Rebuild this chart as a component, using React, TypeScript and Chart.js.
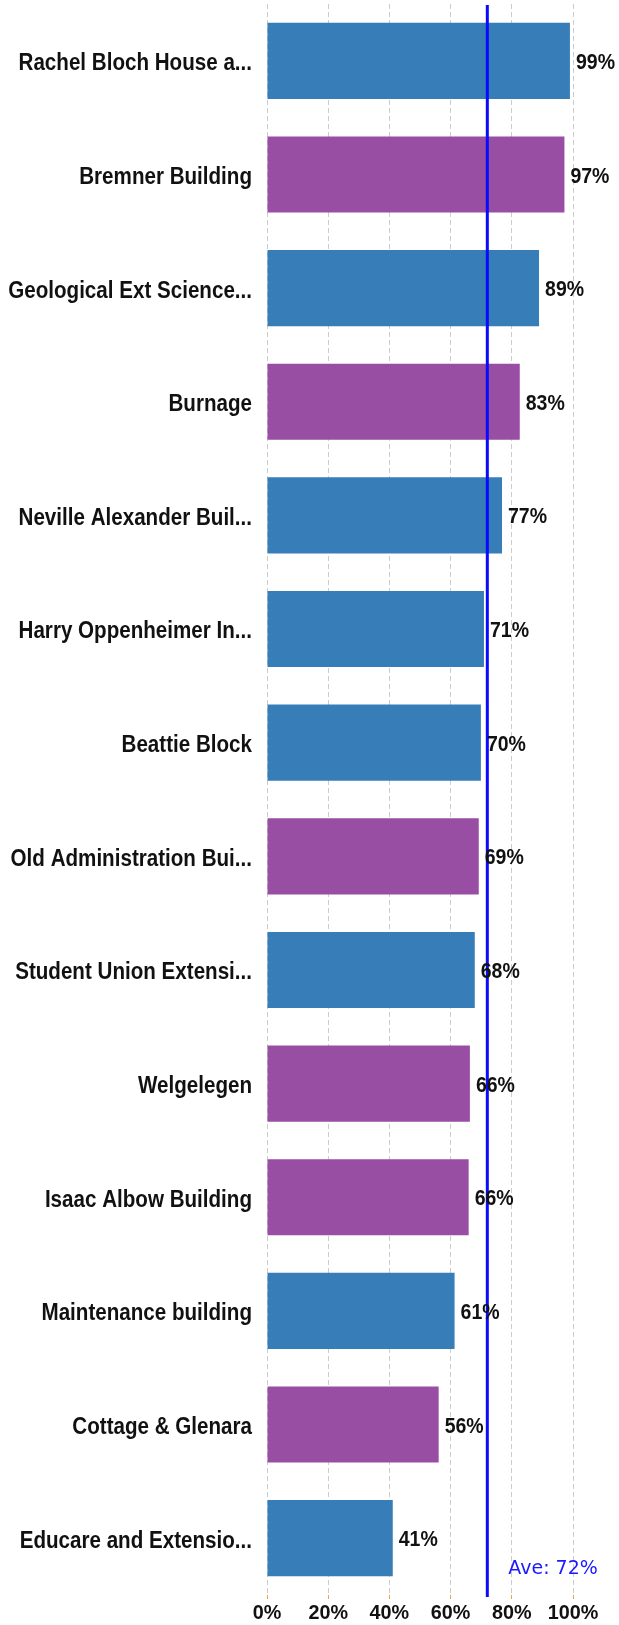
import React, { useEffect, useRef } from "react";
import { Chart, registerables } from "chart.js";

Chart.register(...registerables);

const categories = [
  "Rachel Bloch House a...",
  "Bremner Building",
  "Geological Ext Science...",
  "Burnage",
  "Neville Alexander Buil...",
  "Harry Oppenheimer In...",
  "Beattie Block",
  "Old Administration Bui...",
  "Student Union Extensi...",
  "Welgelegen",
  "Isaac Albow Building",
  "Maintenance building",
  "Cottage & Glenara",
  "Educare and Extensio...",
];

const values = [99.0, 97.2, 88.9, 82.6, 76.8, 70.9, 69.9, 69.2, 67.9, 66.3, 65.9, 61.3, 56.1, 41.1];

const groups = ["A", "B", "A", "B", "A", "A", "A", "B", "A", "B", "B", "A", "B", "A"];

const xTickValues = [0, 20, 40, 60, 80, 100];

const averageValue = 72;
const averageLabel = "Ave: 72%";

const groupColors: Record<string, string> = { A: "#377eb8", B: "#984ea3" };

function drawText(
  ctx: CanvasRenderingContext2D,
  text: string,
  x: number,
  y: number,
  font: string,
  align: CanvasTextAlign,
  sy: number,
  color: string
) {
  ctx.save();
  ctx.font = font;
  ctx.fillStyle = color;
  ctx.textAlign = align;
  ctx.textBaseline = "middle";
  ctx.translate(x, y);
  ctx.scale(1, sy);
  ctx.fillText(text, 0, 0);
  ctx.restore();
}

export default function App() {
  const ref = useRef<HTMLCanvasElement | null>(null);

  useEffect(() => {
    if (!ref.current) return;

    const overlay = {
      id: "overlay",
      afterDatasetsDraw(chart: any) {
        const { ctx, chartArea, scales } = chart;
        const x = scales.x.getPixelForValue(averageValue);
        ctx.save();
        ctx.strokeStyle = "#0a0aff";
        ctx.lineWidth = 3;
        ctx.beginPath();
        ctx.moveTo(x, chartArea.top + 1);
        ctx.lineTo(x, chartArea.bottom + 2);
        ctx.stroke();
        ctx.restore();

        drawText(ctx, averageLabel, x + 21, chartArea.bottom - 26, "19px 'DejaVu Sans'", "left", 1, "#1a1aff");

        const meta = chart.getDatasetMeta(0);
        meta.data.forEach((bar: any, i: number) => {
          drawText(ctx, Math.round(values[i]) + "%", bar.x + 6, bar.y + 2, "bold 19.5px 'Liberation Sans'", "left", 1.13, "#111111");
        });

        categories.forEach((c, i) => {
          const y = scales.y.getPixelForValue(i);
          drawText(ctx, c, chartArea.left - 15, y + 3, "bold 20.6px 'Liberation Sans'", "right", 1.13, "#111111");
        });

        xTickValues.forEach((v) => {
          const tx = scales.x.getPixelForValue(v);
          drawText(ctx, v + "%", tx, 1613, "bold 19.8px 'Liberation Sans'", "center", 1.05, "#111111");
        });
      },
    };

    const chart = new Chart(ref.current, {
      type: "bar",
      data: {
        labels: categories,
        datasets: [
          {
            data: values,
            backgroundColor: groups.map((g) => groupColors[g]),
            borderWidth: 0,
            categoryPercentage: 1,
            barPercentage: 0.67,
          },
        ],
      },
      options: {
        indexAxis: "y",
        responsive: false,
        animation: false,
        devicePixelRatio: 1,
        layout: { padding: { top: 4, right: 46, left: 0, bottom: 0 } },
        plugins: {
          legend: { display: false },
          tooltip: { enabled: false },
        },
        scales: {
          x: {
            min: 0,
            max: 100,
            afterBuildTicks: (scale: any) => {
              scale.ticks = xTickValues.map((v) => ({ value: v }));
            },
            afterFit: (scale: any) => {
              scale.height = 30;
              scale.paddingLeft = 0;
              scale.paddingRight = 0;
            },
            border: { display: false, dash: [5, 3] },
            grid: {
              color: "#cccccc",
              lineWidth: 1,
              drawTicks: true,
              tickLength: 4,
              tickColor: "#f5a040",
            },
            ticks: {
              display: false,
            },
          },
          y: {
            afterFit: (scale: any) => {
              scale.width = 267;
              scale.paddingTop = 0;
              scale.paddingBottom = 0;
            },
            border: { display: false },
            grid: { display: false, drawTicks: false },
            ticks: {
              display: false,
            },
          },
        },
      },
      plugins: [overlay],
    });

    return () => chart.destroy();
  }, []);

  return (
    <div style={{ position: "absolute", left: 0, top: 0, width: 619, height: 1625, background: "#fff" }}>
      <canvas ref={ref} width={619} height={1625} style={{ display: "block" }} />
    </div>
  );
}
